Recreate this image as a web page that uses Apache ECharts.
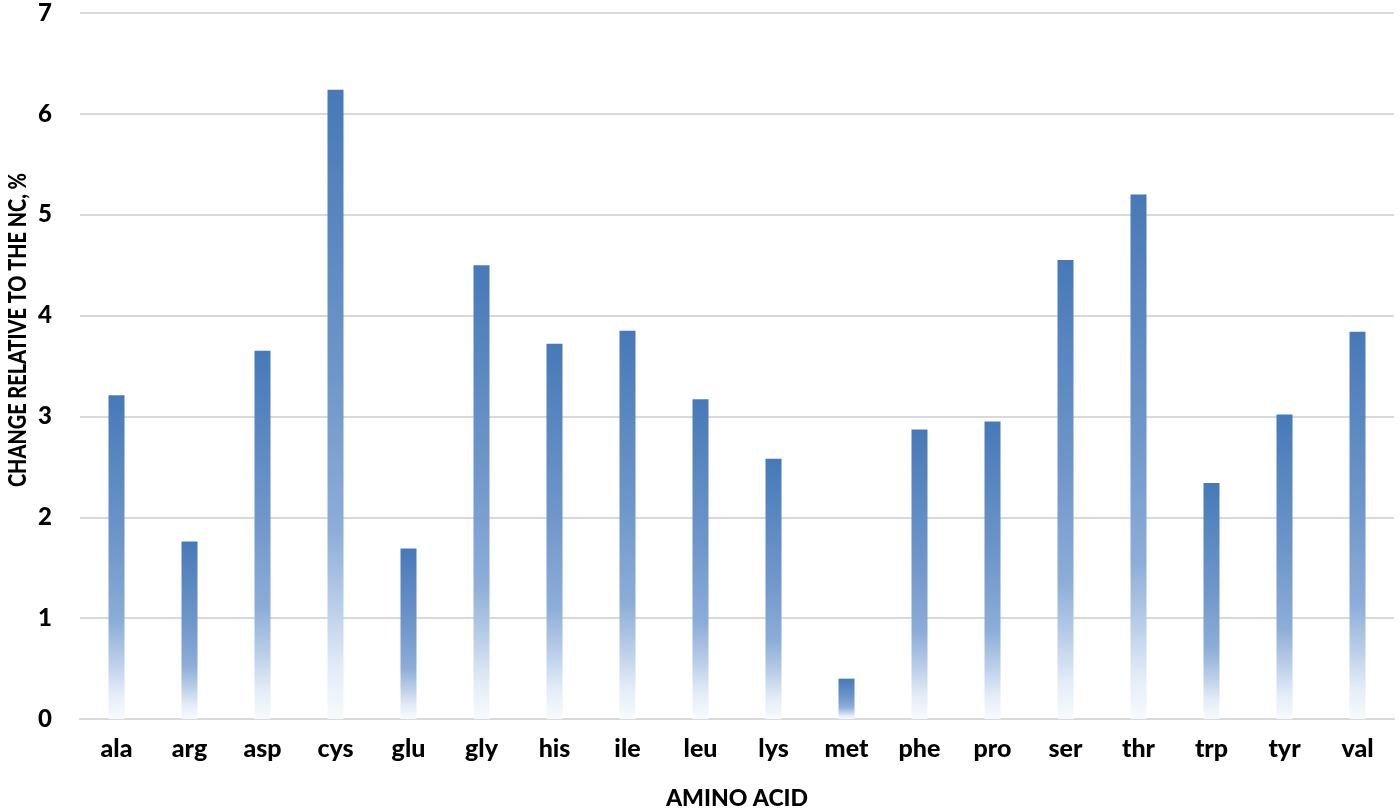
<!DOCTYPE html>
<html><head><meta charset="utf-8">
<script src="https://cdn.jsdelivr.net/npm/echarts@6/dist/echarts.min.js"></script>
<style>html,body{margin:0;padding:0;background:#fff}#c{width:1400px;height:810px}</style>
</head><body><div id="c"></div>
<script>
const categories = ['ala','arg','asp','cys','glu','gly','his','ile','leu','lys','met','phe','pro','ser','thr','trp','tyr','val'];
const values = [3.21,1.76,3.65,6.24,1.69,4.50,3.72,3.85,3.17,2.58,0.40,2.87,2.95,4.55,5.20,2.34,3.02,3.84];
const yTicks = [0,1,2,3,4,5,6,7];
const xTitle = 'AMINO ACID';
const yTitle = 'CHANGE RELATIVE TO THE NC, %';

const chart = echarts.init(document.getElementById('c'), null, {renderer:'canvas'});
const font = 'Lato, "Liberation Sans", sans-serif';
const yTitleFont = '900 25px Lato, "Liberation Sans", sans-serif';
const mctx = document.createElement('canvas').getContext('2d');
mctx.font = yTitleFont;
const yTitleScale = 314 / mctx.measureText(yTitle).width;

chart.setOption({
  animation:false,
  backgroundColor:'#fff',
  grid:{left:80, right:6, top:13, bottom:91, containLabel:false, outerBoundsMode:'none'},
  xAxis:{
    type:'category', data:categories,
    axisLine:{show:true, lineStyle:{color:'#d9d9d9', width:2}},
    axisTick:{show:false},
    axisLabel:{color:'#000', fontFamily:font, fontWeight:900, fontSize:25, margin:17},
    name:xTitle, nameLocation:'middle', nameGap:68,
    nameTextStyle:{color:'#000', fontFamily:font, fontWeight:900, fontSize:23}
  },
  yAxis:{
    type:'value', min:0, max:7, interval:1,
    axisLine:{show:false}, axisTick:{show:false},
    axisLabel:{color:'#000', fontFamily:font, fontWeight:900, fontSize:24, margin:28,
      formatter:v=>yTicks.includes(v)?String(v):''},
    splitLine:{lineStyle:{color:'#d9d9d9', width:2}}
  },
  graphic:[{
    type:'text', x:18, y:330, rotation:Math.PI/2, scaleX:yTitleScale,
    style:{text:yTitle, font:yTitleFont, fill:'#000', align:'center', verticalAlign:'middle'}
  }],
  series:[{
    type:'bar', data:values, barWidth:16,
    itemStyle:{color:new echarts.graphic.LinearGradient(0,0,0,1,[
      {offset:0,color:'#4779b8'},
      {offset:0.45,color:'#6e96ca'},
      {offset:0.7,color:'#8cadd8'},
      {offset:0.82,color:'#b9cde9'},
      {offset:0.92,color:'#e3ecf7'},
      {offset:1,color:'#f8fafd'}
    ])}
  }]
});
</script></body></html>
